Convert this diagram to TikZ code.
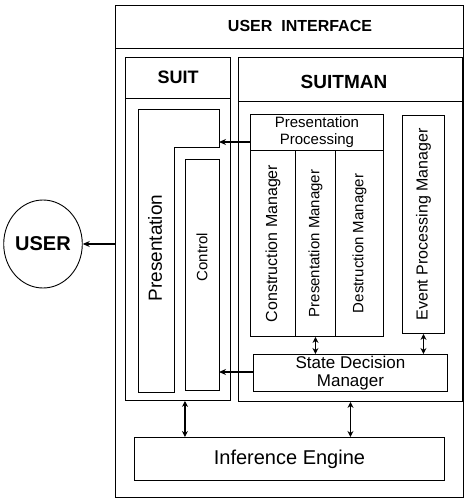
\documentclass[tikz,border=0pt]{standalone}
\usepackage{fontspec}
\setmainfont{Liberation Sans}
\usetikzlibrary{arrows.meta,shapes.geometric}

\tikzset{
  box/.style={draw, line width=0.9pt, inner sep=0pt, anchor=north west},
  head/.style={inner sep=0pt, font=\fontsize{18}{18}\selectfont\bfseries},
  lbl/.style={inner sep=0pt, align=center, font=\fontsize{15}{17}\selectfont},
  vlbl/.style={inner sep=0pt, rotate=90, font=\fontsize{15}{15}\selectfont},
  arr/.style={line width=1.6pt, -{Stealth[length=7pt,width=6pt]}},
  darr/.style={line width=1.6pt, {Stealth[length=6pt,width=6pt]}-{Stealth[length=6pt,width=6pt]}},
}

\begin{document}
\begin{tikzpicture}[x=1pt, y=-1pt]
    \useasboundingbox (0,0) rectangle (466,501);

    % outer frame
    \node[box, minimum width=348, minimum height=492] (ui) at (115,5) {};
    \draw[line width=0.9pt] (115,48) -- (463,48);
    \node[head, font=\fontsize{16}{16}\selectfont\bfseries] (uitxt) at (300,26) {USER\ \ INTERFACE};

    % SUIT
    \node[box, minimum width=105, minimum height=343] (suit) at (125,57) {};
    \draw[line width=0.9pt] (125,98) -- (230,98);
    \node[head] (suittxt) at (178,77) {SUIT};
    \draw[line width=0.9pt] (138,109) -- (219,109) -- (219,147) -- (174,147)
      -- (174,392) -- (138,392) -- cycle;
    \node[vlbl, font=\fontsize{19}{19}\selectfont] (prestxt) at (155,248) {Presentation};
    \node[box, minimum width=34, minimum height=231] (ctrl) at (185,159) {};
    \node[vlbl] (ctrltxt) at (202,257) {Control};

    % SUITMAN
    \node[box, minimum width=224, minimum height=344] (sm) at (238,57) {};
    \draw[line width=0.9pt] (238,101) -- (462,101);
    \node[head, font=\fontsize{19}{19}\selectfont\bfseries] (smtxt) at (344,82) {SUITMAN};
    \node[box, minimum width=133, minimum height=36] (pp) at (250,114) {};
    \node[lbl] (pptxt) at (pp.center) {Presentation\\Processing};
    \node[box, minimum width=45, minimum height=186] (cm) at (250,150) {};
    \node[box, minimum width=40, minimum height=186] (pm) at (295,150) {};
    \node[box, minimum width=48, minimum height=186] (dm) at (335,150) {};
    \node[vlbl, font=\fontsize{16}{16}\selectfont] (cmtxt) at (cm.center) {Construction Manager};
    \node[vlbl] (pmtxt) at (pm.center) {Presentation Manager};
    \node[vlbl] (dmtxt) at (dm.center) {Destruction Manager};
    \node[box, minimum width=42, minimum height=218] (epm) at (402,115) {};
    \node[vlbl, font=\fontsize{16}{16}\selectfont] (epmtxt) at (epm.center) {Event Processing Manager};
    \node[box, minimum width=194, minimum height=37] (sdm) at (253,354) {};
    \node[lbl, font=\fontsize{17}{18}\selectfont] (sdmtxt) at (sdm.center) {State Decision\\Manager};

    % inference engine
    \node[box, minimum width=310, minimum height=43] (ie) at (134,437) {};
    \node[lbl, font=\fontsize{20}{20}\selectfont] (ietxt) at (ie.center) {Inference Engine};

    % user
    \node[draw, ellipse, line width=0.9pt, minimum width=73, minimum height=88,
      inner sep=0pt, font=\fontsize{20}{20}\selectfont\bfseries] (user) at (43,244) {USER};

    % connectors
    \coordinate (prestip) at (219,142);
    \coordinate (ctrltip) at (219,372);
    \draw[arr] (pp.west |- prestip) -- (prestip);
    \draw[arr] (sdm.west |- ctrltip) -- (ctrltip);
    \draw[arr] (ui.west |- user.east) -- (user.east);
    \draw[darr] (pm.south) -- (pm.south |- sdm.north);
    \draw[darr] (epm.south) -- (epm.south |- sdm.north);
    \draw[darr] (sm.south) -- (sm.south |- ie.north);
    \draw[darr] ([xshift=7pt]suit.south) -- ([xshift=7pt]suit.south |- ie.north);
\end{tikzpicture}
\end{document}
